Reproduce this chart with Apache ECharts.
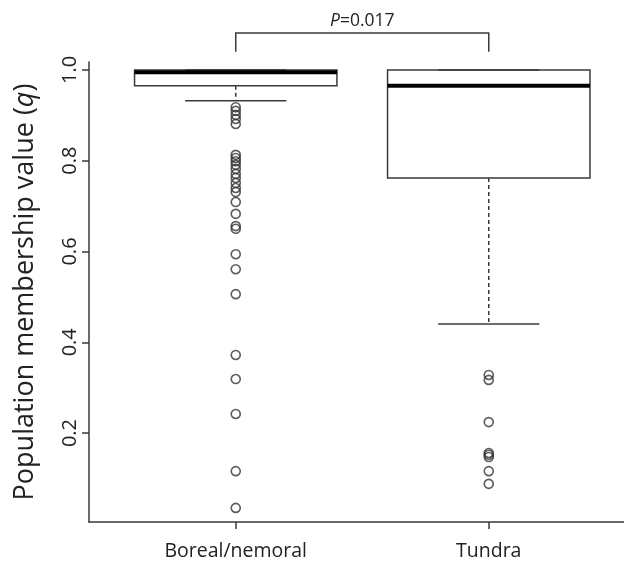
<!DOCTYPE html>
<html>
<head>
<meta charset="utf-8">
<script src="https://cdn.jsdelivr.net/npm/echarts@6/dist/echarts.min.js"></script>
<style>html,body{margin:0;padding:0;background:#fff}#c{width:624px;height:564px}</style>
</head>
<body>
<div id="c"></div>
<script>
// ---- data ----
const categories = ['Boreal/nemoral', 'Tundra'];
// [lower whisker, Q1, median, Q3, upper whisker]
const borealBox = [0.932, 0.965, 0.995, 1.0, 1.0];
const tundraBox = [0.440, 0.762, 0.965, 1.0, 1.0];
const borealOutliers = [0.918, 0.910, 0.901, 0.892, 0.881, 0.813, 0.806, 0.799, 0.791, 0.782,
  0.771, 0.762, 0.751, 0.740, 0.731, 0.709, 0.683, 0.656, 0.650, 0.594, 0.561, 0.506,
  0.372, 0.319, 0.242, 0.116, 0.035];
const tundraOutliers = [0.328, 0.317, 0.224, 0.156, 0.152, 0.147, 0.116, 0.088];
const yTicks = [0.2, 0.4, 0.6, 0.8, 1.0];
const pLabel = '0.017';

const boxes = [borealBox, tundraBox];
const boxData = boxes.map((b, i) => [i + 1].concat(b));
const outlierData = [];
borealOutliers.forEach(v => outlierData.push([1, v]));
tundraOutliers.forEach(v => outlierData.push([2, v]));

const font = '"Open Sans", "Noto Sans", sans-serif';
const lineColor = '#3a3a3a';

const chart = echarts.init(document.getElementById('c'));
chart.setOption({
  animation: false,
  grid: { left: 89, top: 62, width: 546.5, height: 460, containLabel: false, outerBoundsMode: 'none' },
  xAxis: {
    type: 'value', min: 0.42, max: 2.58,
    axisLine: { show: true, lineStyle: { color: lineColor, width: 1.5 } },
    axisTick: { show: true, customValues: [1, 2], length: 7, lineStyle: { color: lineColor, width: 1.5 } },
    axisLabel: { customValues: [1, 2], formatter: v => categories[Math.round(v) - 1],
      fontFamily: font, fontSize: 19.5, color: '#222', margin: 19 },
    splitLine: { show: false }
  },
  yAxis: {
    type: 'value', min: 0.0039, max: 1.0176,
    name: '{n|Population membership value (}{i|q}{n|)}',
    nameLocation: 'middle', nameGap: 50, nameRotate: 90,
    nameTextStyle: { rich: {
      n: { fontFamily: font, fontSize: 27, color: '#222' },
      i: { fontFamily: font, fontSize: 27, color: '#222', fontStyle: 'italic' } } },
    axisLine: { show: true, lineStyle: { color: lineColor, width: 1.5 } },
    axisTick: { show: true, customValues: yTicks, length: 7, lineStyle: { color: lineColor, width: 1.5 } },
    axisLabel: { customValues: yTicks, formatter: v => v.toFixed(1), rotate: 90,
      fontFamily: font, fontSize: 20, color: '#222', margin: 9 },
    splitLine: { show: false }
  },
  series: [
    {
      type: 'custom',
      data: boxData,
      z: 2,
      renderItem: function (params, api) {
        const x = api.value(0);
        const lo = api.value(1), q1 = api.value(2), med = api.value(3), q3 = api.value(4), hi = api.value(5);
        const w = api.size([0.8, 0])[0];
        const pQ1 = api.coord([x, q1]), pQ3 = api.coord([x, q3]);
        const pMed = api.coord([x, med]), pLo = api.coord([x, lo]), pHi = api.coord([x, hi]);
        const cx = pQ1[0];
        const children = [];
        children.push({ type: 'line', shape: { x1: cx, y1: pQ1[1], x2: cx, y2: pLo[1] },
          style: { stroke: lineColor, lineWidth: 1.5, lineDash: [4, 3] } });
        children.push({ type: 'line', shape: { x1: cx, y1: pQ3[1], x2: cx, y2: pHi[1] },
          style: { stroke: lineColor, lineWidth: 1.5, lineDash: [4, 3] } });
        children.push({ type: 'line', shape: { x1: cx - w / 4, y1: pLo[1], x2: cx + w / 4, y2: pLo[1] },
          style: { stroke: lineColor, lineWidth: 1.5 } });
        children.push({ type: 'line', shape: { x1: cx - w / 4, y1: pHi[1], x2: cx + w / 4, y2: pHi[1] },
          style: { stroke: lineColor, lineWidth: 1.5 } });
        children.push({ type: 'rect', shape: { x: cx - w / 2, y: pQ3[1], width: w, height: pQ1[1] - pQ3[1] },
          style: { fill: 'none', stroke: lineColor, lineWidth: 1.5 } });
        children.push({ type: 'line', shape: { x1: cx - w / 2, y1: pMed[1], x2: cx + w / 2, y2: pMed[1] },
          style: { stroke: '#000', lineWidth: 4 } });
        return { type: 'group', children: children };
      }
    },
    {
      type: 'scatter',
      data: outlierData,
      symbol: 'circle',
      symbolSize: 9,
      z: 3,
      itemStyle: { color: 'rgba(255,255,255,0)', borderColor: '#333', borderWidth: 1.6 }
    },
    {
      type: 'custom',
      clip: false,
      data: [[1, 2, 1.04, 1.0815]],
      renderItem: function (params, api) {
        const a = api.coord([api.value(0), api.value(2)]);
        const b = api.coord([api.value(1), api.value(3)]);
        const c = api.coord([api.value(1), api.value(2)]);
        const t = api.coord([api.value(0), api.value(3)]);
        return { type: 'group', children: [
          { type: 'polyline', shape: { points: [[a[0], a[1]], [t[0], t[1]], [b[0], b[1]], [c[0], c[1]]] },
            style: { stroke: lineColor, lineWidth: 1.5, fill: 'none' } },
          { type: 'text', x: (a[0] + c[0]) / 2, y: t[1] - 3,
            style: { text: '{i|P}{n|=' + pLabel + '}', align: 'center', verticalAlign: 'bottom',
              rich: { i: { fontFamily: font, fontSize: 17.5, fontStyle: 'italic', fill: '#222' },
                      n: { fontFamily: font, fontSize: 17.5, fill: '#222' } } } }
        ] };
      }
    }
  ]
});
</script>
</body>
</html>
